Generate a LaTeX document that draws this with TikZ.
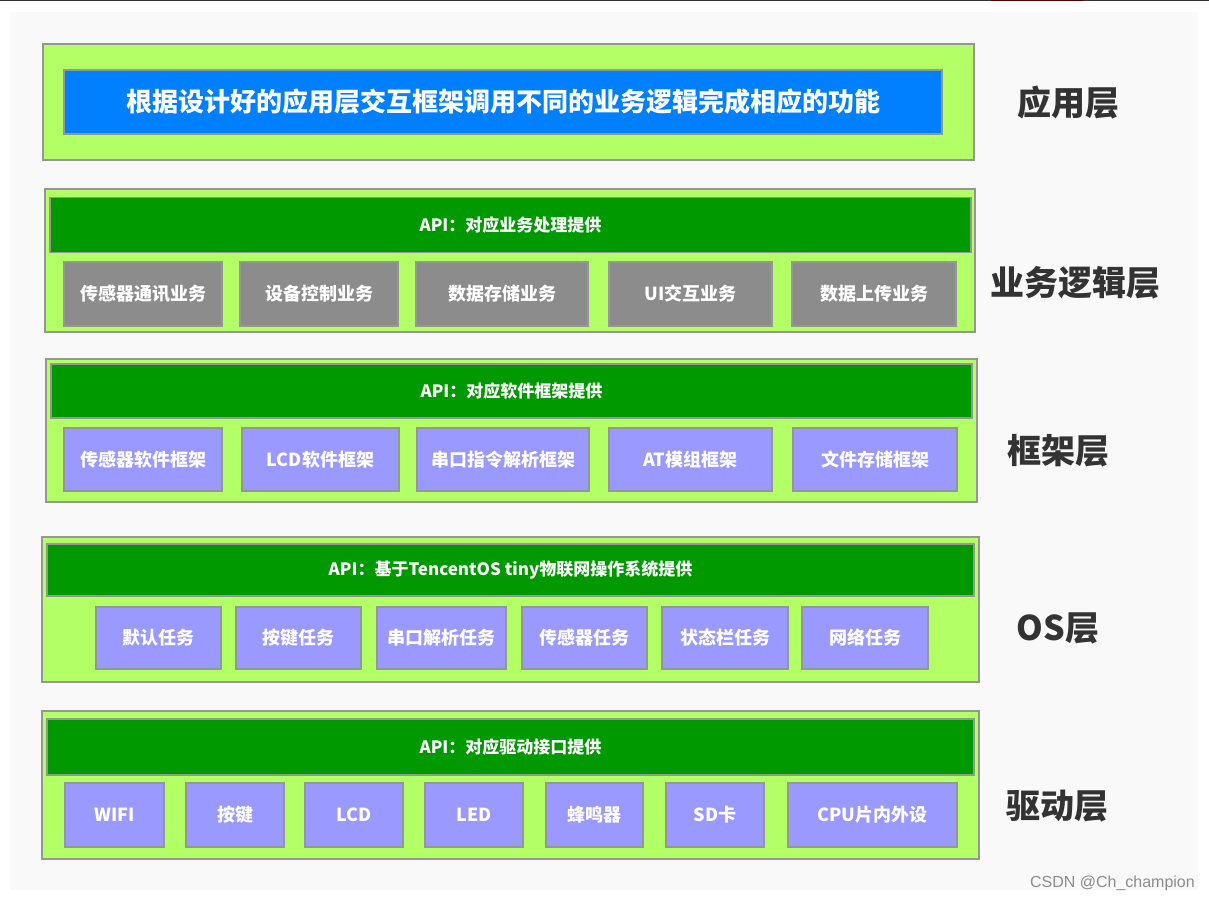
\documentclass[tikz,border=0pt]{standalone}
\usepackage{fontspec}
\setmainfont{Noto Sans CJK SC}
\newfontfamily\wmfont{Liberation Sans}
\definecolor{lime}{RGB}{179,255,102}
\definecolor{apigreen}{RGB}{0,153,0}
\definecolor{appblue}{RGB}{0,128,255}
\definecolor{boxgray}{RGB}{140,140,140}
\definecolor{lavender}{RGB}{153,153,255}
\definecolor{edge}{RGB}{150,150,150}
\definecolor{panel}{RGB}{249,249,249}
\definecolor{labeltext}{RGB}{51,51,51}
\tikzset{
  layerbox/.style={draw=edge, line width=2pt, fill=lime, inner sep=0pt, outer sep=0pt},
  apibar/.style={draw=edge, line width=1.5pt, fill=apigreen, inner sep=0pt, text=white, font=\bfseries\fontsize{17}{20}\selectfont},
  grayitem/.style={draw=boxgray!90!white, line width=1.5pt, fill=boxgray, inner sep=0pt, text=white, font=\bfseries\fontsize{18}{21}\selectfont},
  lavitem/.style={draw=edge, line width=2pt, fill=lavender, inner sep=0pt, text=white, font=\bfseries\fontsize{18}{21}\selectfont},
  appbox/.style={draw=edge, line width=2pt, fill=appblue, inner sep=0pt, text=white, font=\bfseries\fontsize{26}{31}\selectfont},
  layerlabel/.style={text=labeltext, font=\bfseries\fontsize{34}{40}\selectfont, inner sep=0pt}
}
\begin{document}
\begin{tikzpicture}[x=1pt,y=-1pt]
\useasboundingbox (0,0) rectangle (1209,901);
\fill[white] (0,0) rectangle (1209,901);
\fill[panel] (10,12) rectangle (1198,890);
\fill[black!80] (0,0) rectangle (1209,1.5);
\fill[black!70!red] (991,0) rectangle (1083,1.5);

% Layer 1
\node[layerbox, minimum width=931pt, minimum height=116pt] (l1) at (508.5,102) {};
\node[appbox, minimum width=878pt, minimum height=64pt] (app) at (503,102) {根据设计好的应用层交互框架调用不同的业务逻辑完成相应的功能};
\node[layerlabel] (lab1) at (1068,103) {应用层};

% Layer 2
\node[layerbox, minimum width=930pt, minimum height=143pt] (l2) at (510,260.5) {};
\node[apibar, minimum width=921pt, minimum height=55pt] (api2) at (510.5,225) {API：对应业务处理提供};
\node[grayitem, minimum width=158pt, minimum height=64pt] (b21) at (143,294) {传感器通讯业务};
\node[grayitem, minimum width=158pt, minimum height=64pt] (b22) at (319,294) {设备控制业务};
\node[grayitem, minimum width=172pt, minimum height=64pt] (b23) at (502,294) {数据存储业务};
\node[grayitem, minimum width=163pt, minimum height=64pt] (b24) at (690.5,294) {UI交互业务};
\node[grayitem, minimum width=164pt, minimum height=64pt] (b25) at (874,294) {数据上传业务};
\node[layerlabel] (lab2) at (1075,283) {业务逻辑层};

% Layer 3
\node[layerbox, minimum width=931pt, minimum height=143pt] (l3) at (511.5,430.5) {};
\node[apibar, minimum width=921pt, minimum height=54pt] (api3) at (511.5,391) {API：对应软件框架提供};
\node[lavitem, minimum width=158pt, minimum height=63pt] (b31) at (143,459.5) {传感器软件框架};
\node[lavitem, minimum width=157pt, minimum height=63pt] (b32) at (320.5,459.5) {LCD软件框架};
\node[lavitem, minimum width=172pt, minimum height=63pt] (b33) at (503,459.5) {串口指令解析框架};
\node[lavitem, minimum width=163pt, minimum height=63pt] (b34) at (690.5,459.5) {AT模组框架};
\node[lavitem, minimum width=164pt, minimum height=63pt] (b35) at (875,459.5) {文件存储框架};
\node[layerlabel] (lab3) at (1058,451) {框架层};

% Layer 4
\node[layerbox, minimum width=937pt, minimum height=145pt] (l4) at (510.5,609.5) {};
\node[apibar, minimum width=927pt, minimum height=52pt] (api4) at (510.5,570) {API：基于TencentOS tiny物联网操作系统提供};
\node[lavitem, minimum width=125pt, minimum height=62pt] (b41) at (158.5,638) {默认任务};
\node[lavitem, minimum width=125pt, minimum height=62pt] (b42) at (298.5,638) {按键任务};
\node[lavitem, minimum width=129pt, minimum height=62pt] (b43) at (441.5,638) {串口解析任务};
\node[lavitem, minimum width=125pt, minimum height=62pt] (b44) at (584.5,638) {传感器任务};
\node[lavitem, minimum width=126pt, minimum height=62pt] (b45) at (725,638) {状态栏任务};
\node[lavitem, minimum width=126pt, minimum height=62pt] (b46) at (865,638) {网络任务};
\node[layerlabel] (lab4) at (1058,628) {OS层};

% Layer 5
\node[layerbox, minimum width=937pt, minimum height=148pt] (l5) at (510.5,785) {};
\node[apibar, minimum width=927pt, minimum height=56pt] (api5) at (510.5,747) {API：对应驱动接口提供};
\node[lavitem, minimum width=99pt, minimum height=64pt] (b51) at (114.5,815) {WIFI};
\node[lavitem, minimum width=98pt, minimum height=64pt] (b52) at (235,815) {按键};
\node[lavitem, minimum width=98pt, minimum height=64pt] (b53) at (354,815) {LCD};
\node[lavitem, minimum width=98pt, minimum height=64pt] (b54) at (474,815) {LED};
\node[lavitem, minimum width=97pt, minimum height=64pt] (b55) at (594.5,815) {蜂鸣器};
\node[lavitem, minimum width=98pt, minimum height=64pt] (b56) at (715,815) {SD卡};
\node[lavitem, minimum width=169pt, minimum height=64pt] (b57) at (872.5,815) {CPU片内外设};
\node[layerlabel] (lab5) at (1057,806) {驱动层};

% watermark
\node[anchor=east, inner sep=0pt, text=black!45, font=\wmfont\fontsize{16}{19}\selectfont] (wm) at (1195,883) {CSDN @Ch\_champion};
\end{tikzpicture}
\end{document}
